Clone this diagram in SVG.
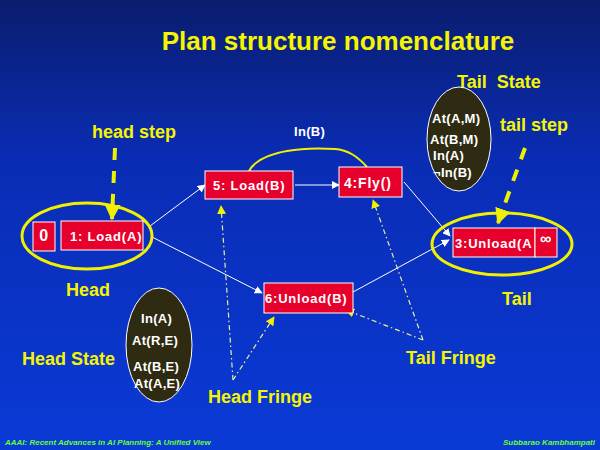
<svg xmlns="http://www.w3.org/2000/svg" width="600" height="450" viewBox="0 0 600 450">
<defs>
<linearGradient id="bg" x1="0" y1="0" x2="0" y2="1">
<stop offset="0" stop-color="#0a1d6e"/>
<stop offset="0.35" stop-color="#0a2cb4"/>
<stop offset="1" stop-color="#0a3ad6"/>
</linearGradient>
<marker id="wa" viewBox="0 0 10 10" refX="9" refY="5" markerWidth="8" markerHeight="8" markerUnits="userSpaceOnUse" orient="auto">
<path d="M0,0 L10,5 L0,10 z" fill="#ffffff"/>
</marker>
<marker id="ya" viewBox="0 0 10 10" refX="9" refY="5" markerWidth="9" markerHeight="9" markerUnits="userSpaceOnUse" orient="auto">
<path d="M0,0 L10,5 L0,10 z" fill="#f0f000"/>
</marker>
<marker id="yb" viewBox="0 0 10 10" refX="9" refY="5" markerWidth="16" markerHeight="16" markerUnits="userSpaceOnUse" orient="auto">
<path d="M0,0 L10,5 L0,10 z" fill="#f0f000"/>
</marker>
<style>
.y{fill:#f5f500;font-family:"Liberation Sans",Arial,sans-serif;font-weight:bold;font-size:18px}
.t{fill:#ffffff;font-family:"Liberation Sans",Arial,sans-serif;font-weight:bold;font-size:13px;letter-spacing:0.8px}
.s{fill:#ffffff;font-family:"Liberation Sans",Arial,sans-serif;font-weight:bold;font-size:13px;letter-spacing:0.3px}
.box{fill:#e8002c;stroke:#ffffff;stroke-width:1}
.st{fill:#2e2b12;stroke:#ffffff;stroke-width:1}
.ring{fill:none;stroke:#f0f000;stroke-width:3}
.w{stroke:#ffffff;stroke-width:1;fill:none}
.d{stroke:#e6f0a0;stroke-width:1.2;fill:none;stroke-dasharray:5 3 1.5 3}
.big{stroke:#f0f000;stroke-width:4;fill:none;stroke-dasharray:12 11}
.f{fill:#66ff33;font-family:"Liberation Sans",Arial,sans-serif;font-style:italic;font-weight:bold;font-size:8px}
</style>
</defs>
<rect width="600" height="450" fill="url(#bg)"/>
<text x="338" y="50" text-anchor="middle" class="y" style="font-size:26px">Plan structure nomenclature</text>
<text x="457" y="88" class="y" xml:space="preserve">Tail  State</text>
<text x="92" y="138" class="y">head step</text>
<text x="500" y="131" class="y">tail step</text>
<text x="66" y="296" class="y">Head</text>
<text x="502" y="305" class="y">Tail</text>
<text x="22" y="365" class="y">Head State</text>
<text x="406" y="364" class="y">Tail Fringe</text>
<text x="208" y="403" class="y">Head Fringe</text>
<text x="294" y="136" class="s">In(B)</text>

<g id="connectors">
<path d="M249,171 C255,160 270,154 287,151 C303,148 320,148 335,149 C348,150 357,156 367,167" stroke="#f0f000" stroke-width="2" fill="none"/>
<line x1="150" y1="226" x2="205" y2="185" class="w" marker-end="url(#wa)"/>
<line x1="152" y1="237" x2="262" y2="293" class="w" marker-end="url(#wa)"/>
<line x1="295" y1="185" x2="339" y2="185" class="w" marker-end="url(#wa)"/>
<line x1="404" y1="182" x2="450" y2="236" class="w" marker-end="url(#wa)"/>
<line x1="353" y1="292" x2="449" y2="240" class="w" marker-end="url(#wa)"/>
<line x1="233" y1="380" x2="221" y2="206" class="d" marker-end="url(#ya)"/>
<line x1="233" y1="380" x2="274" y2="317" class="d" marker-end="url(#ya)"/>
<line x1="423" y1="340" x2="373" y2="200" class="d" marker-end="url(#ya)"/>
<line x1="423" y1="340" x2="346" y2="310" class="d" marker-end="url(#ya)"/>
<line x1="115" y1="148" x2="112" y2="219" class="big" marker-end="url(#yb)"/>
<line x1="525" y1="148" x2="498" y2="223" class="big" marker-end="url(#yb)"/>
</g>

<ellipse cx="87" cy="236" rx="65" ry="33" class="ring"/>
<ellipse cx="502" cy="244" rx="70" ry="31" class="ring"/>

<g id="n0">
<rect x="33" y="222" width="22" height="29" class="box"/>
<text x="44" y="241" text-anchor="middle" class="t" style="font-size:16px">0</text>
</g>
<g id="n1">
<rect x="61" y="221" width="82" height="29" class="box"/>
<text x="70" y="241" class="t">1: Load(A)</text>
</g>
<g id="n5">
<rect x="205" y="171" width="88" height="28" class="box"/>
<text x="213" y="190" class="t">5: Load(B)</text>
</g>
<g id="n4">
<rect x="339" y="167" width="63" height="30" class="box"/>
<text x="344" y="188" class="t" style="font-size:14px">4:Fly()</text>
</g>
<g id="n6">
<rect x="264" y="283" width="89" height="30" class="box"/>
<text x="265" y="303" class="t">6:Unload(B)</text>
</g>
<g id="n3">
<rect x="453" y="228" width="82" height="29" class="box"/>
<text x="455" y="248" class="t">3:Unload(A</text>
</g>
<g id="ninf">
<rect x="535" y="228" width="22" height="29" class="box"/>
<text x="546" y="244" text-anchor="middle" class="t" style="font-size:16px">∞</text>
</g>
<g id="tailstate">
<ellipse cx="459" cy="139" rx="32" ry="52" class="st"/>
<text x="432" y="123" class="s">At(A,M)</text>
<text x="430" y="144" class="s">At(B,M)</text>
<text x="433" y="160" class="s">In(A)</text>
<text x="433" y="177" class="s">¬In(B)</text>
</g>
<g id="headstate">
<ellipse cx="159" cy="345" rx="33" ry="57" class="st"/>
<text x="141" y="323" class="s">In(A)</text>
<text x="132" y="345" class="s">At(R,E)</text>
<text x="133" y="371" class="s">At(B,E)</text>
<text x="134" y="388" class="s">At(A,E)</text>
</g>
<text x="5" y="445" class="f">AAAI: Recent Advances in AI Planning: A Unified View</text>
<text x="595" y="445" text-anchor="end" class="f">Subbarao Kambhampati</text>
</svg>
